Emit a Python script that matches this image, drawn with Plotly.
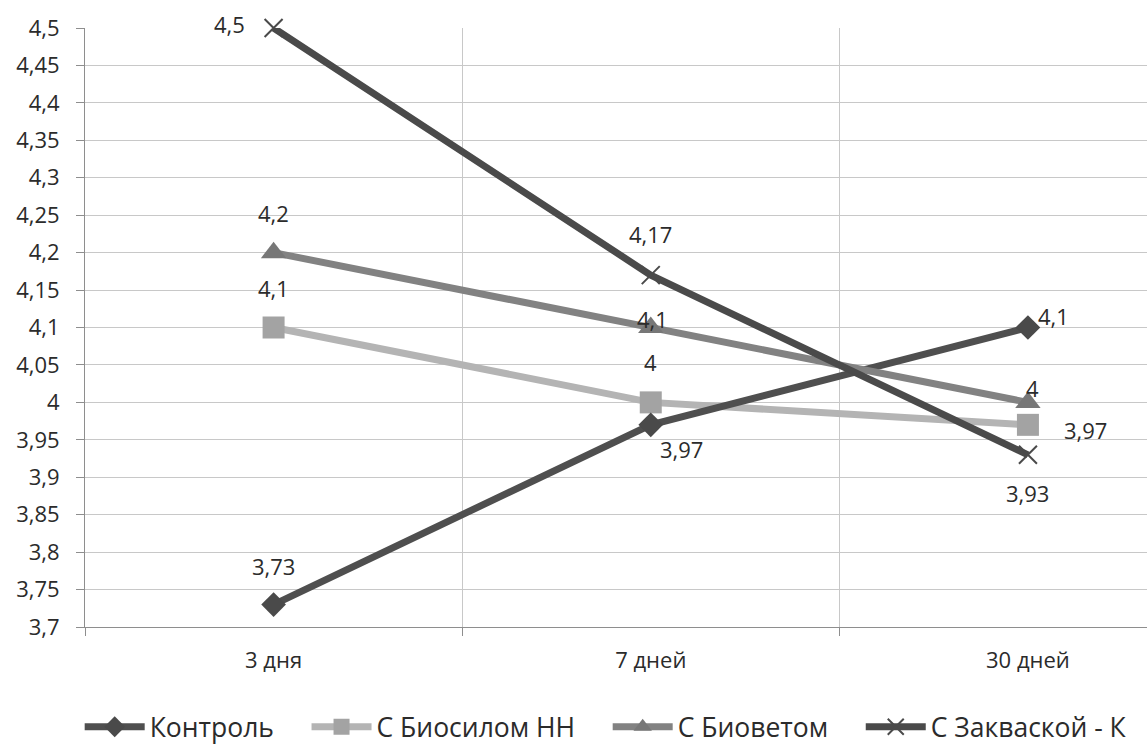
import plotly.graph_objects as go

# Storage period categories
periods = ["3 дня", "7 дней", "30 дней"]

# pH values for each sample
kontrol = [3.73, 3.97, 4.1]
biosil = [4.1, 4.0, 3.97]
biovet = [4.2, 4.1, 4.0]
zakvaska = [4.5, 4.17, 3.93]

series_names = ["Контроль", "С Биосилом НН", "С Биоветом", "С Закваской - К"]

# Y axis ticks
y_ticks = [3.7, 3.75, 3.8, 3.85, 3.9, 3.95, 4.0, 4.05, 4.1, 4.15, 4.2, 4.25,
           4.3, 4.35, 4.4, 4.45, 4.5]


def fmt(v):
    return f"{v:g}".replace(".", ",")


FONT = "Open Sans, Noto Sans, sans-serif"
TXT = "#2b2b2b"
NBSP = "\u00a0"

styles = {
    "Контроль": dict(line="#4f4f4f", marker=dict(symbol="diamond", size=19, color="#4a4a4a")),
    "С Биосилом НН": dict(line="#b4b4b4", marker=dict(symbol="square", size=22, color="#a3a3a3")),
    "С Биоветом": dict(line="#828282", marker=dict(symbol="triangle-up", size=22, color="#777777")),
    "С Закваской - К": dict(line="#4a4a4a", marker=dict(symbol="x-thin-open", size=18, color="#4a4a4a",
                                                     line=dict(width=2, color="#4a4a4a"))),
}

# Data label offsets (px) for each point: (xshift, yshift)
label_offsets = {
    "Контроль": [(0, 39), (31, -24), (26, 12)],
    "С Биосилом НН": [(0, 40), (0, 40), (58, -5)],
    "С Биоветом": [(0, 40), (2, 9), (5, 14)],
    "С Закваской - К": [(-44, 4), (0, 41), (0, -38)],
}

values = {
    "Контроль": kontrol,
    "С Биосилом НН": biosil,
    "С Биоветом": biovet,
    "С Закваской - К": zakvaska,
}

# drawing order (later on top)
draw_order = ["С Биосилом НН", "Контроль", "С Биоветом", "С Закваской - К"]

fig = go.Figure()
for name in draw_order:
    st = styles[name]
    rank = series_names.index(name)
    # trailing non-breaking spaces widen the gap between legend entries
    label = name + (NBSP * 4 if rank < len(series_names) - 1 else "")
    fig.add_trace(go.Scatter(
        x=periods, y=values[name], name=label, mode="lines+markers",
        line=dict(color=st["line"], width=7),
        marker=st["marker"],
        legendrank=rank + 1,
        cliponaxis=False,
    ))

annotations = []
for name in series_names:
    for i, (p, v) in enumerate(zip(periods, values[name])):
        dx, dy = label_offsets[name][i]
        annotations.append(dict(
            x=p, y=v, xref="x", yref="y", text=fmt(v), showarrow=False,
            xshift=dx, yshift=dy, font=dict(family=FONT, size=22, color=TXT),
        ))

fig.update_layout(
    width=1147, height=749,
    margin=dict(l=85, r=0, t=28, b=122, autoexpand=False),
    paper_bgcolor="white", plot_bgcolor="white",
    separators=", ",
    font=dict(family=FONT, color=TXT),
    annotations=annotations,
    showlegend=True,
    legend=dict(
        orientation="h", x=-0.005, xanchor="left", y=-0.167, yanchor="middle",
        font=dict(family=FONT, size=26.5, color=TXT),
        itemwidth=60, tracegroupgap=0, bgcolor="rgba(0,0,0,0)",
    ),
)

fig.update_xaxes(
    type="category", categoryorder="array", categoryarray=periods,
    range=[-0.5, 2.3157], tickson="boundaries",
    showgrid=True, gridcolor="#c8c8c8", gridwidth=1,
    showline=True, linecolor="#8e8e8e", linewidth=1,
    ticks="outside", ticklen=8, tickcolor="#8e8e8e",
    tickfont=dict(family=FONT, size=22, color=TXT),
    ticklabelstandoff=14,
)
fig.update_yaxes(
    range=[3.7, 4.5], tickvals=y_ticks, ticktext=[fmt(v) for v in y_ticks],
    showgrid=True, gridcolor="#c8c8c8", gridwidth=1, zeroline=False,
    showline=True, linecolor="#8e8e8e", linewidth=1,
    ticks="outside", ticklen=8, tickcolor="#8e8e8e",
    tickfont=dict(family=FONT, size=22, color=TXT),
    ticklabelstandoff=12,
)

fig.write_html("out.html")
